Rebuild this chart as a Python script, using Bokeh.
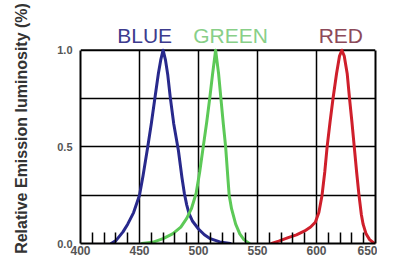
from bokeh.plotting import figure
from bokeh.models import FixedTicker, Range1d, LinearAxis, ColumnDataSource
from bokeh.core.properties import value
from bokeh.embed import file_html
from bokeh.resources import INLINE

# ---- data ----
blue_nm = [426, 430, 436, 440, 445, 450, 453, 457, 460, 463, 466, 468, 470, 472, 474, 476,
           479, 483, 486, 488, 490, 492, 495, 500, 505, 510, 518, 527]
blue_val = [0.0, 0.015, 0.06, 0.10, 0.16, 0.25, 0.35, 0.50, 0.62, 0.75, 0.88, 0.95, 1.0, 0.95,
            0.87, 0.76, 0.62, 0.48, 0.34, 0.26, 0.20, 0.155, 0.115, 0.075, 0.045, 0.025, 0.008, 0.0]

green_nm = [452, 461, 470, 478, 485, 490, 494, 498, 501, 504, 507, 509.5, 512, 514.5, 517,
            519, 521, 523, 525, 526, 528, 531.5, 535, 538.5, 543]
green_val = [0.0, 0.006, 0.025, 0.05, 0.085, 0.13, 0.18, 0.26, 0.37, 0.50, 0.63, 0.75, 0.88, 1.0,
             0.88, 0.75, 0.62, 0.50, 0.33, 0.25, 0.18, 0.10, 0.05, 0.02, 0.0]

red_nm = [562, 568, 576, 583, 590, 595, 599, 602, 604.7, 607, 609, 611.5, 614, 617, 619.5, 621.5,
          623.5, 626, 628, 630, 632, 634, 636, 638, 639.5, 642, 645, 649]
red_val = [0.0, 0.012, 0.03, 0.045, 0.065, 0.085, 0.11, 0.16, 0.25, 0.37, 0.50, 0.63, 0.75, 0.88,
           0.97, 1.0, 0.97, 0.88, 0.75, 0.63, 0.50, 0.37, 0.25, 0.15, 0.10, 0.05, 0.02, 0.0]

series_names = ["BLUE", "GREEN", "RED"]
series_label_nm = [454.4, 527.1, 620.6]

x_ticks = [400, 450, 500, 550, 600, 650]
x_minor_ticks = [410, 420, 430, 440, 460, 470, 480, 490, 510, 520, 530, 540,
                 560, 570, 580, 590, 610, 620, 630, 640]
x_grid = [450, 500, 550, 600]
y_ticks = [0.0, 0.5, 1.0]
y_tick_labels = ["0.0", "0.5", "1.0"]
y_grid = [0.25, 0.5, 0.75]
y_title = "Relative Emission luminosity (%)"

line_colors = ["#28298c", "#5cc957", "#cf1f2b"]
label_colors = ["#3d3b8e", "#88cf88", "#8c4a5a"]

FONT = "Liberation Sans"
Y_TOP = 1.19  # headroom above 1.0 for the series names

p = figure(width=377, height=259, output_backend="svg", toolbar_location=None,
           x_range=Range1d(x_ticks[0], x_ticks[-1]), y_range=Range1d(0, Y_TOP),
           min_border_left=80, min_border_right=2, min_border_top=13, min_border_bottom=16)
p.background_fill_color = "white"
p.border_fill_color = "white"
p.outline_line_color = None

# grids
p.xgrid.visible = False
p.ygrid.ticker = FixedTicker(ticks=y_grid)
p.ygrid.grid_line_color = "black"
p.ygrid.grid_line_width = 1.5
p.ygrid.grid_line_alpha = 1
p.segment(x0=x_grid, y0=[y_ticks[0]] * len(x_grid), x1=x_grid, y1=[y_ticks[-1]] * len(x_grid),
          line_color="black", line_width=1.5)
# top border of the chart box
p.segment(x0=[x_ticks[0]], y0=[y_ticks[-1]], x1=[x_ticks[-1]], y1=[y_ticks[-1]],
          line_color="black", line_width=2)

# x axis
xa = p.xaxis[0]
xa.ticker = FixedTicker(ticks=x_ticks, minor_ticks=x_minor_ticks)
xa.axis_line_width = 2
xa.axis_line_color = "black"
xa.major_tick_in = 0
xa.major_tick_out = 0
xa.minor_tick_in = 11
xa.minor_tick_out = 0
xa.minor_tick_line_width = 1.5
xa.minor_tick_line_color = "black"
xa.major_label_standoff = 2
xa.major_label_text_font = FONT
xa.major_label_text_font_style = "bold"
xa.major_label_text_font_size = "12px"
xa.major_label_text_color = "#555555"

# y axis
ya = p.yaxis[0]
ya.bounds = (y_ticks[0], y_ticks[-1])
ya.ticker = FixedTicker(ticks=y_ticks)
ya.major_label_overrides = {v: s for v, s in zip(y_ticks, y_tick_labels)}
ya.axis_line_width = 2
ya.axis_line_color = "black"
ya.major_tick_in = 0
ya.major_tick_out = 0
ya.minor_tick_in = 0
ya.minor_tick_out = 0
ya.major_label_standoff = 8
ya.major_label_text_font = FONT
ya.major_label_text_font_style = "bold"
ya.major_label_text_font_size = "11px"
ya.major_label_text_color = "#555555"
ya.axis_label = y_title
ya.axis_label_standoff = 24
ya.axis_label_text_font = FONT
ya.axis_label_text_font_style = "bold"
ya.axis_label_text_font_size = "16px"
ya.axis_label_text_color = "#333333"

# right border as an axis limited to the box
ra = LinearAxis(bounds=(y_ticks[0], y_ticks[-1]), ticker=FixedTicker(ticks=[]),
                axis_line_width=2, axis_line_color="black",
                major_tick_in=0, major_tick_out=0, minor_tick_in=0, minor_tick_out=0,
                major_label_standoff=0)
p.add_layout(ra, "right")

# curves
for nm, val, col in zip([blue_nm, green_nm, red_nm], [blue_val, green_val, red_val], line_colors):
    p.line(nm, val, line_color=col, line_width=3, line_join="round", line_cap="round")

# series names above the box
lab_src = ColumnDataSource(dict(x=series_label_nm, y=[1.076] * 3, t=series_names, c=label_colors))
p.text(x="x", y="y", text="t", text_color="c", source=lab_src, text_align="center",
       text_baseline="alphabetic", text_font=value(FONT), text_font_size=value("21px"))

open("out.html", "w").write(file_html(p, INLINE))
